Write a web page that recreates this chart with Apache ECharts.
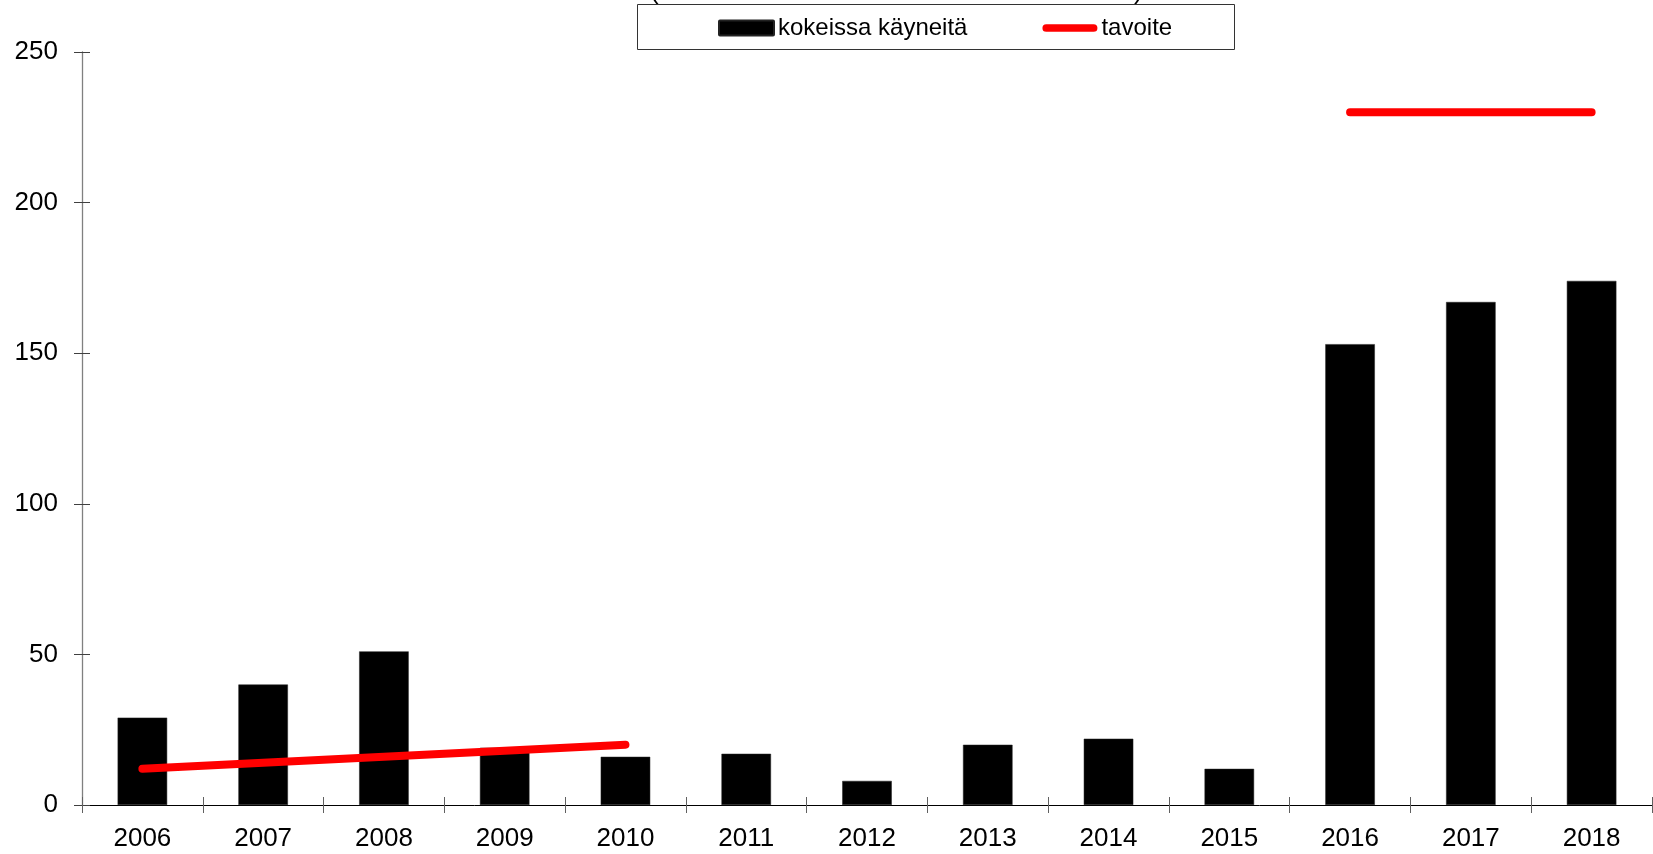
<!DOCTYPE html>
<html>
<head>
<meta charset="utf-8">
<script src="https://cdn.jsdelivr.net/npm/echarts@6/dist/echarts.min.js"></script>
<style>
html,body{margin:0;padding:0;background:#fff;}
#chart{width:1653px;height:854px;}
</style>
</head>
<body>
<div id="chart"></div>
<script>
const years = ['2006','2007','2008','2009','2010','2011','2012','2013','2014','2015','2016','2017','2018'];
const attended = [29, 40, 51, 19, 16, 17, 8, 20, 22, 12, 153, 167, 174];
const target = [12, 14, 16, 18, 20, null, null, null, null, null, 230, 230, 230];
const yTicks = {min: 0, max: 250, interval: 50};
const seriesNames = ['kokeissa käyneitä', 'tavoite'];

const font = '"Liberation Sans", Arial, sans-serif';
const chart = echarts.init(document.getElementById('chart'), null, {renderer: 'canvas'});
const grid = {left: 82, right: 1, top: 52, bottom: 49, containLabel: false};

chart.setOption({
  animation: false,
  backgroundColor: '#fff',
  textStyle: {fontFamily: font},
  grid: grid,
  graphic: [
    {type: 'rect', shape: {x: 637.5, y: 4.5, width: 597, height: 45}, style: {fill: '#fff', stroke: '#333', lineWidth: 1}, z: 0},
    {type: 'text', x: 650, y: 5, style: {text: '(', font: '26px ' + font, fill: '#000', textVerticalAlign: 'bottom'}},
    {type: 'text', x: 1134, y: 5, style: {text: ')', font: '26px ' + font, fill: '#000', textVerticalAlign: 'bottom'}}
  ],
  legend: {
    left: 713, top: 11,
    itemGap: 75,
    itemWidth: 55, itemHeight: 15,
    textStyle: {fontSize: 24, color: '#000', fontFamily: font, padding: [0, 0, 0, -1]},
    data: [
      {name: seriesNames[0], icon: 'path://M1,0 L54,0 A1,1 0 0 1 55,1 L55,14 A1,1 0 0 1 54,15 L1,15 A1,1 0 0 1 0,14 L0,1 A1,1 0 0 1 1,0 Z'},
      {name: seriesNames[1], icon: 'path://M4,0 L53,0 A4,4 0 0 1 53,8 L4,8 A4,4 0 0 1 4,0 Z'}
    ],
    z: 5
  },
  xAxis: [
    {
      type: 'category', data: years, position: 'bottom',
      axisLine: {lineStyle: {color: '#000', width: 1}},
      axisTick: {show: true, length: 8, lineStyle: {color: '#606060'}},
      axisLabel: {fontSize: 26, color: '#000', margin: 21, fontFamily: font}
    },
    {
      type: 'category', data: years, position: 'bottom', gridIndex: 0,
      axisLine: {show: false},
      axisTick: {show: true, inside: true, length: 8, lineStyle: {color: '#606060'}},
      axisLabel: {show: false}
    }
  ],
  yAxis: [
    {
      type: 'value', min: yTicks.min, max: yTicks.max, interval: yTicks.interval,
      axisLine: {show: true, lineStyle: {color: '#808080', width: 1.3}},
      axisTick: {show: true, length: 8, lineStyle: {color: '#404040'}},
      axisLabel: {fontSize: 26, color: '#000', margin: 24, fontFamily: font},
      splitLine: {show: false}
    },
    {
      type: 'value', min: yTicks.min, max: yTicks.max, interval: yTicks.interval, position: 'left',
      axisLine: {show: false},
      axisTick: {show: true, inside: true, length: 8, lineStyle: {color: '#404040'}},
      axisLabel: {show: false},
      splitLine: {show: false}
    }
  ],
  series: [
    {
      name: seriesNames[0], type: 'bar', data: attended, barWidth: '41%',
      itemStyle: {color: '#000', borderColor: '#222', borderWidth: 0.5},
      z: 2
    },
    {
      name: seriesNames[1], type: 'line', data: target, connectNulls: false,
      symbol: 'none', color: '#ff0000',
      lineStyle: {color: '#ff0000', width: 8, cap: 'round', join: 'round'},
      itemStyle: {color: '#ff0000'},
      z: 3
    }
  ]
});
</script>
</body>
</html>
